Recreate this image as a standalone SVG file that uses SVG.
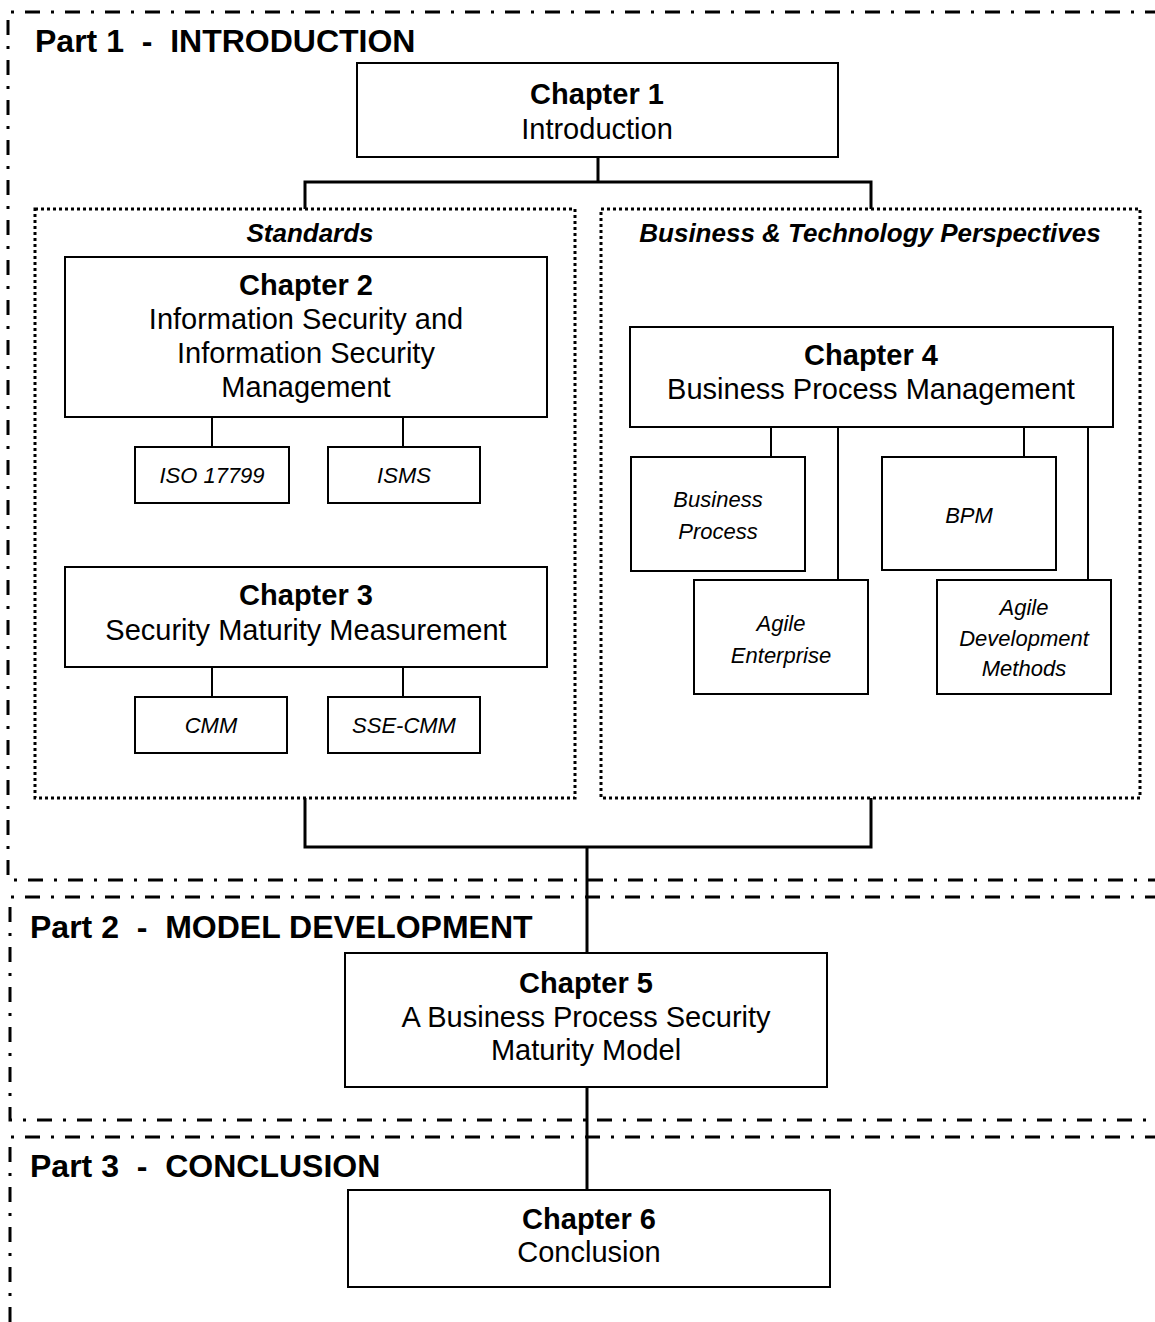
<svg xmlns="http://www.w3.org/2000/svg" width="1155" height="1322" viewBox="0 0 1155 1322">
  <style>
    .part { fill: none; stroke: #000; stroke-width: 3; stroke-dasharray: 15 11 3 11; }
    .group { fill: none; stroke: #000; stroke-width: 3; stroke-dasharray: 3 3; }
    .box { fill: #fff; stroke: #000; stroke-width: 2; }
    .link { fill: none; stroke: #000; stroke-width: 3; }
    .sub { fill: none; stroke: #000; stroke-width: 2; }
    text { font-family: "Liberation Sans", Arial, sans-serif; fill: #000; text-anchor: middle; }
    .ptitle { font-size: 32px; font-weight: bold; text-anchor: start; }
    .ch { font-size: 29px; font-weight: bold; }
    .body { font-size: 29px; }
    .gtitle { font-size: 26px; font-weight: bold; font-style: italic; }
    .item { font-size: 22px; font-style: italic; }
  </style>

  <!-- part frames -->
  <g id="part1">
    <path class="part" d="M1160,12 H8 V880 H1160"/>
    <text class="ptitle" x="35" y="52" xml:space="preserve">Part 1  -  INTRODUCTION</text>
  </g>
  <g id="part2">
    <path class="part" d="M1160,897 H10 V1120 H1160"/>
    <text class="ptitle" x="30" y="938" xml:space="preserve">Part 2  -  MODEL DEVELOPMENT</text>
  </g>
  <g id="part3">
    <path class="part" d="M1160,1137 H10 V1330"/>
    <text class="ptitle" x="30" y="1177" xml:space="preserve">Part 3  -  CONCLUSION</text>
  </g>

  <!-- grouping frames -->
  <g id="standards">
    <rect class="group" x="35" y="209" width="540" height="589"/>
    <text class="gtitle" x="310" y="242">Standards</text>
  </g>
  <g id="perspectives">
    <rect class="group" x="601" y="209" width="539" height="589"/>
    <text class="gtitle" x="870" y="242">Business &amp; Technology Perspectives</text>
  </g>

  <!-- connectors -->
  <g id="connectors">
    <path class="link" d="M598,157 V182 M305,209 V182 H871 V209"/>
    <path class="link" d="M305,798 V847 H871 V798 M587,847 V953"/>
    <path class="link" d="M587,1087 V1190"/>
    <path class="sub" d="M212,417 V447 M403,417 V447"/>
    <path class="sub" d="M212,667 V697 M403,667 V697"/>
    <path class="sub" d="M771,427 V457 M838,427 V580 M1024,427 V457 M1088,427 V580"/>
  </g>

  <!-- chapters -->
  <g id="ch1">
    <rect class="box" x="357" y="63" width="481" height="94"/>
    <text class="ch" x="597" y="104">Chapter 1</text>
    <text class="body" x="597" y="139">Introduction</text>
  </g>
  <g id="ch2">
    <rect class="box" x="65" y="257" width="482" height="160"/>
    <text class="ch" x="306" y="295">Chapter 2</text>
    <text class="body" x="306" y="329">Information Security and</text>
    <text class="body" x="306" y="363">Information Security</text>
    <text class="body" x="306" y="397">Management</text>
  </g>
  <g id="iso17799">
    <rect class="box" x="135" y="447" width="154" height="56"/>
    <text class="item" x="212" y="483">ISO 17799</text>
  </g>
  <g id="isms">
    <rect class="box" x="328" y="447" width="152" height="56"/>
    <text class="item" x="404" y="483">ISMS</text>
  </g>
  <g id="ch3">
    <rect class="box" x="65" y="567" width="482" height="100"/>
    <text class="ch" x="306" y="605">Chapter 3</text>
    <text class="body" x="306" y="640">Security Maturity Measurement</text>
  </g>
  <g id="cmm">
    <rect class="box" x="135" y="697" width="152" height="56"/>
    <text class="item" x="211" y="733">CMM</text>
  </g>
  <g id="sse-cmm">
    <rect class="box" x="328" y="697" width="152" height="56"/>
    <text class="item" x="404" y="733">SSE-CMM</text>
  </g>
  <g id="ch4">
    <rect class="box" x="630" y="327" width="483" height="100"/>
    <text class="ch" x="871" y="365">Chapter 4</text>
    <text class="body" x="871" y="399">Business Process Management</text>
  </g>
  <g id="business-process">
    <rect class="box" x="631" y="457" width="174" height="114"/>
    <text class="item" x="718" y="507">Business</text>
    <text class="item" x="718" y="539">Process</text>
  </g>
  <g id="bpm">
    <rect class="box" x="882" y="457" width="174" height="113"/>
    <text class="item" x="969" y="523">BPM</text>
  </g>
  <g id="agile-enterprise">
    <rect class="box" x="694" y="580" width="174" height="114"/>
    <text class="item" x="781" y="631">Agile</text>
    <text class="item" x="781" y="663">Enterprise</text>
  </g>
  <g id="agile-dev">
    <rect class="box" x="937" y="580" width="174" height="114"/>
    <text class="item" x="1024" y="615">Agile</text>
    <text class="item" x="1024" y="646">Development</text>
    <text class="item" x="1024" y="676">Methods</text>
  </g>
  <g id="ch5">
    <rect class="box" x="345" y="953" width="482" height="134"/>
    <text class="ch" x="586" y="993">Chapter 5</text>
    <text class="body" x="586" y="1027">A Business Process Security</text>
    <text class="body" x="586" y="1060">Maturity Model</text>
  </g>
  <g id="ch6">
    <rect class="box" x="348" y="1190" width="482" height="97"/>
    <text class="ch" x="589" y="1229">Chapter 6</text>
    <text class="body" x="589" y="1262">Conclusion</text>
  </g>
</svg>
